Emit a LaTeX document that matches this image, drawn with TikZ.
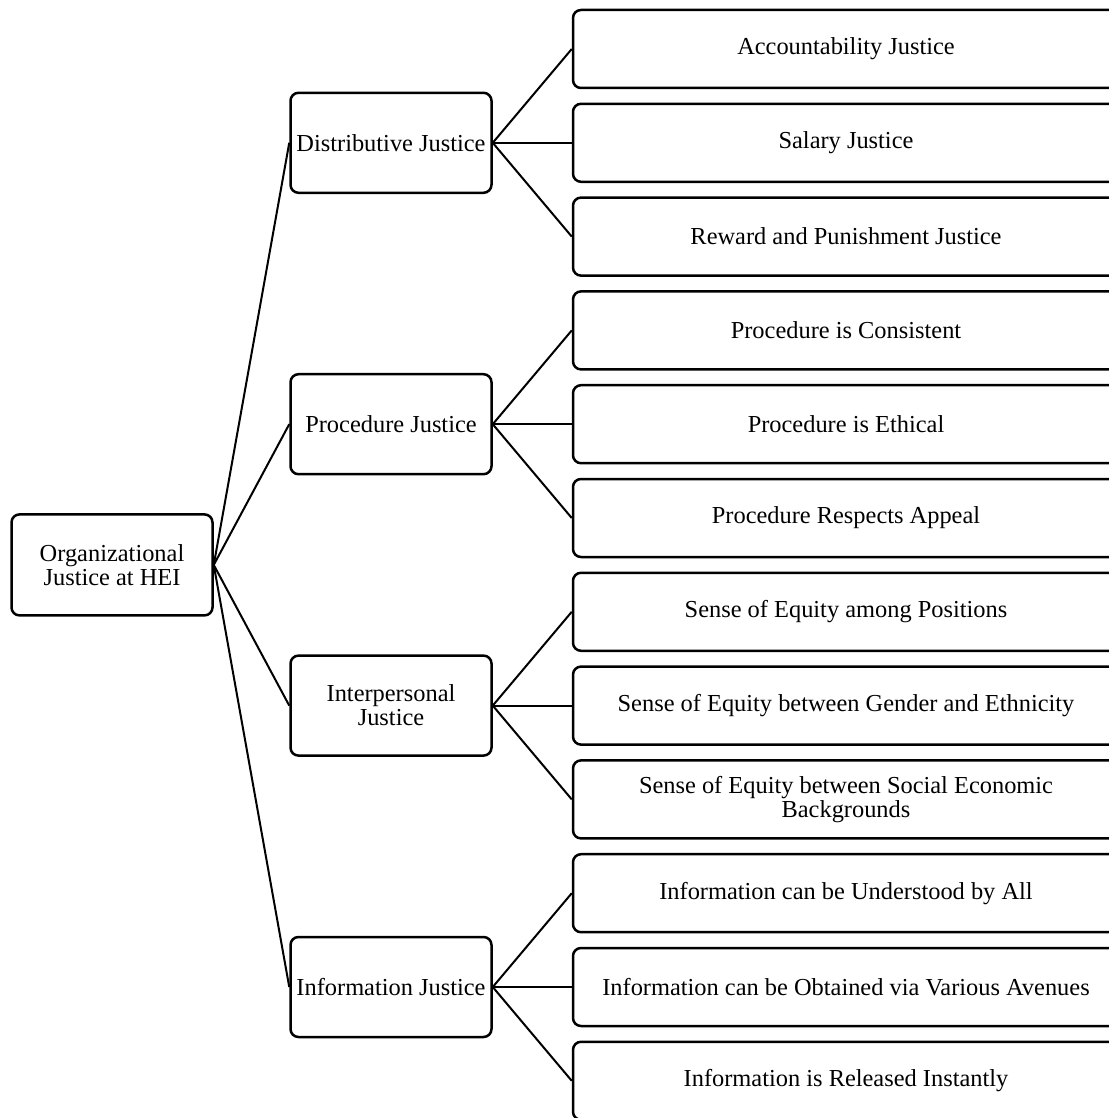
\documentclass[tikz,border=0pt]{standalone}
\usepackage{fontspec}
\setmainfont{Liberation Serif}
\usetikzlibrary{positioning}
\tikzset{
  box/.style={
    draw=black,
    line width=1.25pt,
    rounded corners=4pt,
    align=center,
    inner sep=1pt,
    font=\fontsize{12.2}{12}\selectfont
  },
  rootbox/.style={box, minimum width=100.5pt, minimum height=50.5pt},
  midbox/.style={box, minimum width=100.5pt, minimum height=50pt},
  leafbox/.style={box, minimum width=273pt, minimum height=39pt},
  link/.style={line width=1pt}
}

\begin{document}
\begin{tikzpicture}[x=0.5pt,y=-0.5pt]
\useasboundingbox (0,0) rectangle (1108,1118);

% leaves
\node[leafbox] (acc)    at (846,49)     {Accountability Justice};
\node[leafbox] (sal)    at (846,142.8)  {Salary Justice};
\node[leafbox] (rew)    at (846,236.6)  {Reward and Punishment Justice};
\node[leafbox] (pcons)  at (846,330.4)  {Procedure is Consistent};
\node[leafbox] (peth)   at (846,424.2)  {Procedure is Ethical};
\node[leafbox] (papp)   at (846,518.0)  {Procedure Respects Appeal};
\node[leafbox] (eqpos)  at (846,611.8)  {Sense of Equity among Positions};
\node[leafbox] (eqgen)  at (846,705.6)  {Sense of Equity between Gender and Ethnicity};
\node[leafbox] (eqsoc)  at (846,799.4)  {Sense of Equity between Social Economic\\Backgrounds};
\node[leafbox] (infund) at (846,893.2)  {Information can be Understood by All};
\node[leafbox] (infobt) at (846,987.0)  {Information can be Obtained via Various Avenues};
\node[leafbox] (infrel) at (846,1080.8) {Information is Released Instantly};

% dimensions
\node[midbox, left=39.5pt of sal]    (dist)  {Distributive Justice};
\node[midbox, left=39.5pt of peth]   (proc)  {Procedure Justice};
\node[midbox, left=39.5pt of eqgen]  (inter) {Interpersonal\\Justice};
\node[midbox, left=39.5pt of infobt] (info)  {Information Justice};

% root
\node[rootbox] (root) at (112,564.9) {Organizational\\Justice at HEI};

\foreach \m in {dist,proc,inter,info}
  \draw[link] (root.east) -- (\m.west);

\foreach \m/\a/\b/\c in {dist/acc/sal/rew,proc/pcons/peth/papp,
    inter/eqpos/eqgen/eqsoc,info/infund/infobt/infrel}{
  \draw[link] (\m.east) -- (\a.west);
  \draw[link] (\m.east) -- (\b.west);
  \draw[link] (\m.east) -- (\c.west);
}
\end{tikzpicture}
\end{document}
